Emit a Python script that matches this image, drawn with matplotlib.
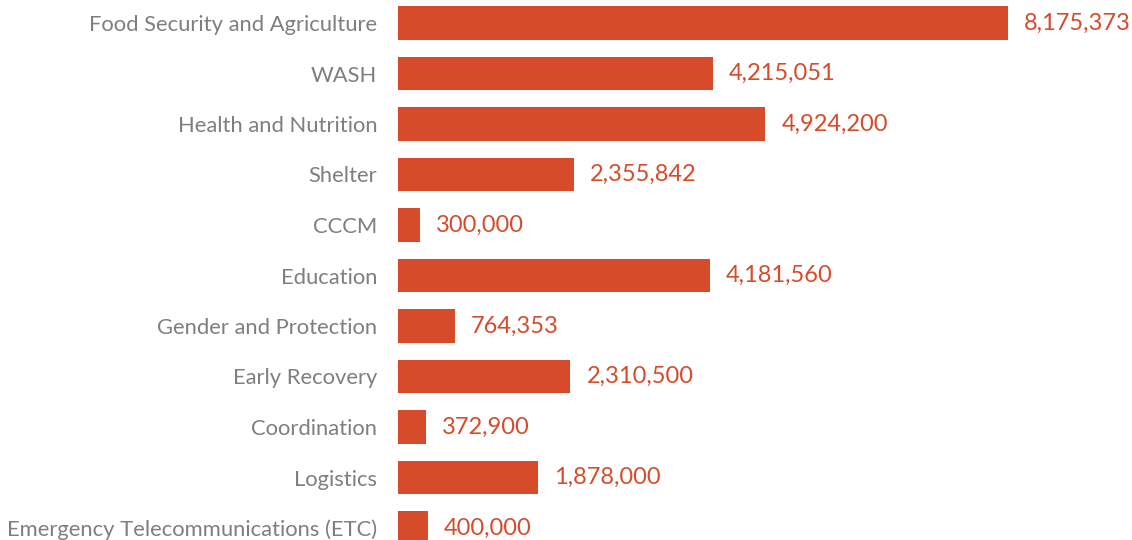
import matplotlib.pyplot as plt

sectors = ['Food Security and Agriculture', 'WASH', 'Health and Nutrition', 'Shelter',
           'CCCM', 'Education', 'Gender and Protection', 'Early Recovery',
           'Coordination', 'Logistics', 'Emergency Telecommunications (ETC)']
amounts = [8175373, 4215051, 4924200, 2355842, 300000, 4181560, 764353,
           2310500, 372900, 1878000, 400000]

bar_color = '#d64b2a'
label_color = '#7f7f7f'

W, H = 1132, 540
fig = plt.figure(figsize=(W / 100, H / 100), dpi=100)
ax = fig.add_axes([398 / W, 0, 1 - 398 / W, 1])

pos = list(range(len(sectors)))
ax.barh(pos, amounts, height=0.67, color=bar_color)

xmax = max(amounts) * (W - 398) / (1008 - 398)
ax.set_xlim(0, xmax)
ax.set_ylim((540 - 23) / 50.5, -23 / 50.5)

px = xmax / (W - 398)
for p, a in zip(pos, amounts):
    ax.text(a + 16 * px, p, f'{a:,}', va='center', ha='left',
            fontsize=17, color=bar_color, family='Lato')

ax.set_yticks(pos)
ax.set_yticklabels(sectors, fontsize=15.8, color=label_color, family='Lato')
ax.tick_params(axis='y', length=0, pad=15)
ax.set_xticks([])
for s in ax.spines.values():
    s.set_visible(False)

fig.savefig('out.png', dpi=100)
